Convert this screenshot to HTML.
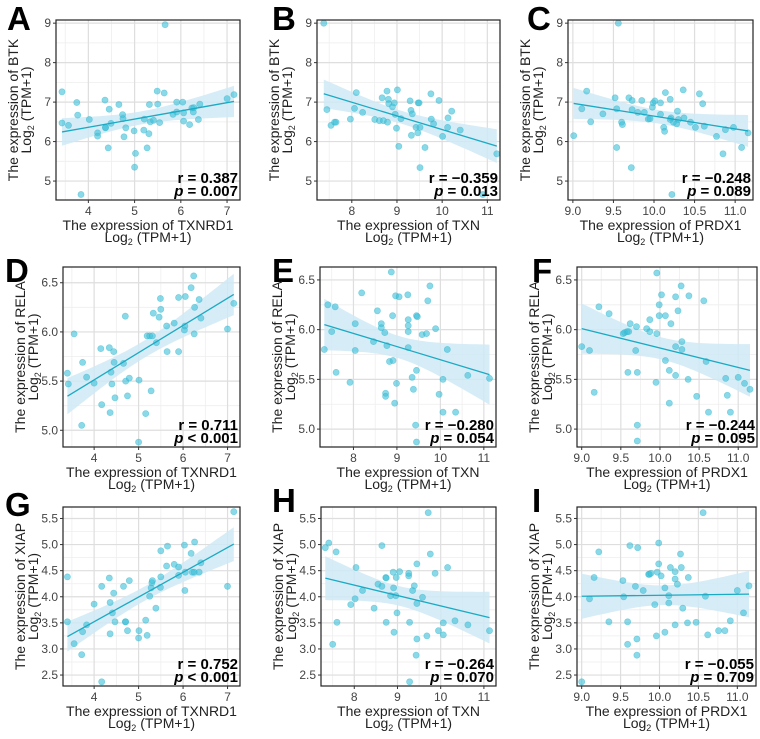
<!DOCTYPE html>
<html><head><meta charset="utf-8"><style>
html,body{margin:0;padding:0;background:#fff;}
svg{display:block;font-family:"Liberation Sans",Arial,sans-serif;}
</style></head><body>
<svg id="fig" width="760" height="739" viewBox="0 0 760 739"></svg>
<script>
// ---- data (log2 TPM+1) ----
const aX=[3.43,3.43,3.57,3.75,3.77,4.02,4.2,4.2,4.36,4.37,4.37,4.43,4.45,4.49,4.66,4.74,4.75,4.77,4.81,5.02,5.0,4.99,5.2,5.21,5.31,5.27,5.32,5.34,5.41,5.49,5.5,5.54,5.64,5.66,3.84,5.83,5.91,5.91,6.04,6.06,6.06,6.19,6.24,6.27,6.28,6.38,6.41,7.0,7.15];
const aY=[7.26,6.47,6.41,6.99,6.67,6.56,6.22,6.14,7.05,6.36,6.35,5.84,6.82,6.46,6.94,6.68,6.58,6.12,6.35,5.7,5.35,6.27,6.29,6.57,6.2,5.84,6.94,6.5,6.54,7.28,6.95,6.48,7.23,8.96,4.66,6.69,7.0,6.75,7.0,6.73,6.52,6.43,6.85,6.75,6.86,6.56,6.95,7.09,7.19];
const bX=[7.38,7.45,7.54,7.62,7.65,7.97,8.06,8.1,8.24,8.51,8.61,8.67,8.7,8.78,8.79,8.81,8.82,8.9,8.94,8.96,8.99,9.01,9.04,9.09,9.29,9.31,9.32,9.34,9.42,9.46,9.47,9.49,9.51,9.51,9.62,9.75,9.76,9.81,9.93,10.01,10.12,10.13,10.21,10.4,10.9,11.21];
const bY=[9.0,6.81,6.41,6.49,6.49,6.57,6.84,7.24,6.74,6.56,6.53,7.11,6.53,7.28,6.49,7.07,6.96,6.88,6.98,6.69,6.34,7.31,5.88,6.58,7.03,6.79,6.16,6.7,6.36,6.22,6.98,6.98,6.36,5.34,5.85,7.21,6.57,6.45,7.04,6.13,6.36,6.6,6.77,6.29,4.66,5.69];
const cX=[9.01,9.11,9.17,9.22,9.37,9.54,9.54,9.6,9.61,9.69,9.72,9.73,9.8,9.85,9.88,9.93,9.95,9.98,9.99,10.01,10.08,10.08,10.12,10.13,10.14,10.2,10.21,10.22,10.24,10.28,10.29,10.3,10.36,10.37,10.45,10.51,10.56,10.6,10.62,10.77,10.85,10.88,10.98,11.08,11.16,9.56,9.52,9.73,10.2];
const cY=[6.15,6.83,7.28,6.5,6.7,6.83,5.85,6.49,6.43,7.11,5.34,7.04,6.74,7.04,6.74,6.57,6.58,6.87,6.98,7.03,6.69,6.98,6.36,6.26,7.24,7.07,6.6,4.66,6.49,6.45,6.77,6.56,7.31,6.6,6.49,6.36,7.21,6.96,6.39,6.13,5.69,6.3,6.36,5.85,6.22,9.0,7.11,6.81,6.56];
const dX=[3.4,3.42,3.55,3.72,3.74,3.83,4.0,4.15,4.17,4.34,4.36,4.44,4.45,4.38,4.4,4.47,4.66,4.7,4.71,4.75,4.79,5.01,5.0,5.16,5.19,5.25,5.28,5.31,5.33,5.4,5.46,5.49,5.5,5.63,5.64,5.8,5.9,5.9,6.03,6.05,6.04,6.18,6.24,6.25,6.26,6.36,6.4,7.0,7.14];
const dY=[5.58,5.47,5.98,5.05,5.69,5.54,5.48,5.83,5.26,5.84,5.18,5.8,5.69,5.59,5.47,5.33,5.68,6.16,5.5,5.35,5.53,5.51,4.88,5.17,5.96,5.96,5.4,5.96,6.19,5.89,6.15,6.34,6.23,6.06,5.8,6.09,5.8,6.35,6.02,6.36,6.06,6.45,6.57,5.98,6.25,6.33,6.14,6.03,6.29];
const eX=[7.33,7.41,7.5,7.58,7.6,7.92,8.04,8.04,8.19,8.46,8.55,8.64,8.64,8.72,8.74,8.74,8.77,8.83,8.91,8.9,8.95,8.87,8.97,8.99,9.05,9.25,9.26,9.26,9.26,9.26,9.45,9.35,9.38,9.43,9.45,9.45,9.58,9.68,9.71,9.76,9.89,9.97,10.06,10.06,10.16,10.35,10.63,11.13,9.47];
const eY=[5.8,6.25,5.98,6.23,5.57,5.47,6.06,5.79,6.37,5.88,6.19,6.06,6.02,5.97,5.36,5.33,5.84,5.68,5.69,6.14,5.26,6.58,6.34,5.46,6.33,6.35,6.1,6.04,5.82,5.98,6.14,5.52,5.4,5.04,4.87,5.59,5.95,5.96,6.29,6.44,6.01,5.35,5.5,5.17,5.8,5.17,5.54,5.51,6.13];
const fX=[9.0,9.1,9.16,9.22,9.35,9.53,9.55,9.58,9.6,9.62,9.69,9.7,9.71,9.83,9.87,9.87,9.95,9.96,9.96,9.99,9.99,10.02,10.07,10.07,10.12,10.12,10.14,10.2,10.2,10.2,10.23,10.27,10.28,10.28,10.36,10.37,10.47,10.56,10.59,10.62,10.86,10.9,10.84,11.0,11.08,11.15,9.71,9.71,9.59];
const fY=[5.83,5.79,5.37,6.23,6.16,5.96,5.97,5.98,5.98,6.06,5.79,6.03,5.57,6.01,6.1,5.98,5.47,5.96,6.57,6.25,6.14,6.35,6.14,5.69,5.59,5.26,6.06,5.54,5.83,6.33,6.19,6.44,5.88,5.8,5.5,6.34,5.33,6.29,5.68,5.17,5.34,5.17,5.51,5.52,5.46,5.4,5.04,4.88,5.57];
const gX=[3.4,3.4,3.55,3.72,3.74,3.83,4.0,4.17,4.34,4.36,4.36,4.44,4.41,4.47,4.66,4.7,4.71,4.75,4.79,5.0,5.01,5.16,5.19,5.25,5.28,5.3,5.31,5.39,5.49,5.5,5.5,5.63,5.65,5.8,5.9,5.9,6.03,6.05,6.04,6.18,6.21,6.25,6.26,6.36,6.4,7.0,7.14,4.17];
const gY=[4.38,3.52,3.1,2.89,3.33,3.46,3.86,4.2,4.36,3.89,3.29,4.07,3.69,3.52,4.2,3.52,3.52,3.35,4.31,3.21,3.35,3.55,3.26,4.01,4.17,4.27,4.31,3.78,4.18,4.38,4.88,4.59,4.97,4.62,4.41,4.57,4.99,4.47,4.12,4.83,4.47,4.47,5.05,4.47,4.65,4.2,5.63,2.37];
const hX=[7.33,7.41,7.5,7.58,7.6,7.92,8.02,8.04,8.19,8.46,8.55,8.64,8.73,8.74,8.74,8.84,8.9,8.91,8.92,8.96,8.97,8.99,9.05,9.26,9.26,9.28,9.28,9.35,9.39,9.43,9.45,9.45,9.45,9.58,9.68,9.76,9.87,9.95,10.06,10.06,10.16,10.33,10.63,11.13,9.71,8.64];
const hY=[4.94,5.03,3.09,4.86,3.51,3.85,3.96,4.56,4.12,3.78,4.24,4.2,4.37,3.51,4.36,4.02,4.47,4.17,3.32,4.02,4.37,3.69,4.48,4.4,4.45,3.51,2.37,4.12,4.21,2.88,3.19,3.87,4.63,3.99,3.25,4.82,4.45,3.35,3.5,3.27,4.56,3.54,3.46,3.35,5.61,4.98];
const iX=[9.0,9.1,9.16,9.22,9.35,9.53,9.54,9.59,9.59,9.62,9.69,9.71,9.71,9.72,9.79,9.86,9.87,9.89,9.94,9.96,9.97,9.99,9.99,10.02,10.07,10.07,10.12,10.12,10.14,10.2,10.2,10.2,10.23,10.27,10.28,10.3,10.36,10.37,10.47,10.56,10.59,10.62,10.76,10.84,10.91,11.0,11.08,11.15];
const iY=[2.37,3.96,4.37,4.86,3.52,4.31,4.0,3.52,3.09,4.98,4.2,3.19,2.88,4.94,4.12,4.43,4.43,4.45,3.85,3.25,4.47,5.03,4.63,4.4,3.32,4.17,3.88,4.02,4.56,3.46,4.34,4.48,4.24,4.82,4.56,3.78,3.5,4.37,3.51,5.61,4.01,3.27,3.35,3.35,3.54,4.12,3.69,4.21];
// tick labels
const ticksTXNRD1=[4,5,6,7];
const ticksTXN=[8,9,10,11];
const ticksPRDX1=[9.0,9.5,10.0,10.5,11.0];
const ticksBTK=[5,6,7,8,9];
const ticksRELA=[5.0,5.5,6.0,6.5];
const ticksXIAP=[2.5,3.0,3.5,4.0,4.5,5.0,5.5];
const statsR=['0.387','\u22120.359','\u22120.248','0.711','\u22120.280','\u22120.244','0.752','\u22120.264','\u22120.055'];
const statsP=['= 0.007','= 0.013','= 0.089','< 0.001','= 0.054','= 0.095','< 0.001','= 0.070','= 0.709'];

const panels=[
 {id:'A',x:aX,y:aY,rect:[56,240,20,200],xd:[3.3,7.28],yd:[4.52,9.08],xt:ticksTXNRD1,yt:ticksBTK,xdec:0,ydec:0,gene:'BTK',xg:'TXNRD1',base:30,lx:7},
 {id:'B',x:bX,y:bY,rect:[317,500,20,200],xd:[7.23,11.28],yd:[4.52,9.08],xt:ticksTXN,yt:ticksBTK,xdec:0,ydec:0,gene:'BTK',xg:'TXN',base:30,lx:272},
 {id:'C',x:cX,y:cY,rect:[568,753,20,200],xd:[8.94,11.22],yd:[4.52,9.08],xt:ticksPRDX1,yt:ticksBTK,xdec:1,ydec:0,gene:'BTK',xg:'PRDX1',base:30,lx:527},
 {id:'D',x:dX,y:dY,rect:[63,240,267,447],xd:[3.3,7.28],yd:[4.83,6.66],xt:ticksTXNRD1,yt:ticksRELA,xdec:0,ydec:1,gene:'RELA',xg:'TXNRD1',base:282,lx:5},
 {id:'E',x:eX,y:eY,rect:[320,496,267,447],xd:[7.23,11.28],yd:[4.82,6.63],xt:ticksTXN,yt:ticksRELA,xdec:0,ydec:1,gene:'RELA',xg:'TXN',base:282,lx:272},
 {id:'F',x:fX,y:fY,rect:[577,757,267,447],xd:[8.94,11.24],yd:[4.82,6.63],xt:ticksPRDX1,yt:ticksRELA,xdec:1,ydec:1,gene:'RELA',xg:'PRDX1',base:282,lx:532},
 {id:'G',x:gX,y:gY,rect:[63,240,507,686],xd:[3.3,7.28],yd:[2.29,5.72],xt:ticksTXNRD1,yt:ticksXIAP,xdec:0,ydec:1,gene:'XIAP',xg:'TXNRD1',base:516,lx:5},
 {id:'H',x:hX,y:hY,rect:[321,496,507,686],xd:[7.23,11.28],yd:[2.29,5.72],xt:ticksTXN,yt:ticksXIAP,xdec:0,ydec:1,gene:'XIAP',xg:'TXN',base:512,lx:272},
 {id:'I',x:iX,y:iY,rect:[577,756,507,686],xd:[8.94,11.24],yd:[2.29,5.72],xt:ticksPRDX1,yt:ticksXIAP,xdec:1,ydec:1,gene:'XIAP',xg:'PRDX1',base:512,lx:532}
];

const NS='http://www.w3.org/2000/svg';
const svg=document.getElementById('fig');
function mk(tag,attrs,parent){const e=document.createElementNS(NS,tag);for(const k in attrs)e.setAttribute(k,attrs[k]);(parent||svg).appendChild(e);return e;}

panels.forEach((P,pi)=>{
  const [x0,x1,y0,y1]=P.rect;
  const sx=v=>x0+(v-P.xd[0])/(P.xd[1]-P.xd[0])*(x1-x0);
  const sy=v=>y1-(v-P.yd[0])/(P.yd[1]-P.yd[0])*(y1-y0);
  const g=mk('g',{});
  
  
  const L=mk('text',{x:P.lx,y:P.base,'font-size':33,'font-weight':'bold',fill:'#000'},g);
  L.textContent=P.id;
  
  
  mk('rect',{x:x0,y:y0,width:x1-x0,height:y1-y0,fill:'#fff'},g);
  const grid=mk('g',{},g);
  
  
  const xs=P.xt, ys=P.yt;
  const xstep=xs[1]-xs[0], ystep=ys[1]-ys[0];
  for(let v=xs[0]-xstep*1.5; v<=xs[xs.length-1]+xstep*1.5; v+=xstep){
    if(v>P.xd[0]&&v<P.xd[1]){const X=sx(v);mk('line',{x1:X,x2:X,y1:y0,y2:y1,stroke:'#eeeeee','stroke-width':0.8},grid);}
  }
  for(let v=ys[0]-ystep*1.5; v<=ys[ys.length-1]+ystep*1.5; v+=ystep){
    if(v>P.yd[0]&&v<P.yd[1]){const Y=sy(v);mk('line',{x1:x0,x2:x1,y1:Y,y2:Y,stroke:'#eeeeee','stroke-width':0.8},grid);}
  }
  xs.forEach(v=>{const X=sx(v);mk('line',{x1:X,x2:X,y1:y0,y2:y1,stroke:'#dedede','stroke-width':1.2},grid);});
  ys.forEach(v=>{const Y=sy(v);mk('line',{x1:x0,x2:x1,y1:Y,y2:Y,stroke:'#dedede','stroke-width':1.2},grid);});
  const n=P.x.length;
  let mx=0,my=0;for(let i=0;i<n;i++){mx+=P.x[i];my+=P.y[i];}mx/=n;my/=n;
  let sxx=0,sxy=0;for(let i=0;i<n;i++){sxx+=(P.x[i]-mx)**2;sxy+=(P.x[i]-mx)*(P.y[i]-my);}
  const b=sxy/sxx,a=my-b*mx;
  let sse=0;for(let i=0;i<n;i++){sse+=(P.y[i]-a-b*P.x[i])**2;}
  const s=Math.sqrt(sse/(n-2)),t=2.01;
  const xmin=Math.min(...P.x),xmax=Math.max(...P.x);
  const up=[],lo=[];
  for(let k=0;k<=40;k++){const xv=xmin+(xmax-xmin)*k/40;const yh=a+b*xv;const h=t*s*Math.sqrt(1/n+(xv-mx)**2/sxx);up.push(sx(xv).toFixed(1)+','+sy(yh+h).toFixed(1));lo.unshift(sx(xv).toFixed(1)+','+sy(yh-h).toFixed(1));}
  const band=mk('polygon',{points:up.concat(lo).join(' '),fill:'#cfe9f5','fill-opacity':0.85},g);
  
  
  const pts=mk('g',{},g);
  
  
  for(let i=0;i<n;i++){
    const c=mk('circle',{cx:sx(P.x[i]).toFixed(1),cy:sy(P.y[i]).toFixed(1),r:3.1,fill:'#3cc0d8','fill-opacity':0.6,stroke:'#2bb3cc','stroke-opacity':0.5,'stroke-width':0.6},pts);
    
    
  }
  const ln=mk('line',{x1:sx(xmin),y1:sy(a+b*xmin),x2:sx(xmax),y2:sy(a+b*xmax),stroke:'#1aaac4','stroke-width':1.3},g);
  
  
  mk('rect',{x:x0,y:y0,width:x1-x0,height:y1-y0,fill:'none',stroke:'#222','stroke-width':1.2},g);
  xs.forEach(v=>{const X=sx(v);mk('line',{x1:X,x2:X,y1:y1,y2:y1+3,stroke:'#333','stroke-width':1},g);
    const tx=mk('text',{x:X,y:y1+15,'font-size':12,'text-anchor':'middle',fill:'#444'},g);tx.textContent=v.toFixed(P.xdec);
    
    });
  ys.forEach(v=>{const Y=sy(v);mk('line',{x1:x0-3,x2:x0,y1:Y,y2:Y,stroke:'#333','stroke-width':1},g);
    const ty=mk('text',{x:x0-5,y:Y+4,'font-size':12,'text-anchor':'end',fill:'#444'},g);ty.textContent=v.toFixed(P.ydec);
    
    });
  const cx=(x0+x1)/2;
  const xt1=mk('text',{x:cx,y:y1+30,'font-size':14,'text-anchor':'middle',fill:'#222'},g);
  xt1.textContent='The expression of '+P.xg;
  
  
  const xt2=mk('text',{x:cx,y:y1+42,'font-size':14,'text-anchor':'middle',fill:'#222'},g);
  xt2.innerHTML='Log<tspan font-size="9" dy="3">2</tspan><tspan dy="-3"> (TPM+1)</tspan>';
  
  
  const cy=(y0+y1)/2;
  const yt1=mk('text',{x:0,y:0,'font-size':14,'text-anchor':'middle',fill:'#222',transform:`translate(${x0-38},${cy}) rotate(-90)`},g);
  yt1.textContent='The expression of '+P.gene;
  
  
  const yt2=mk('text',{x:0,y:0,'font-size':14,'text-anchor':'middle',fill:'#222',transform:`translate(${x0-25},${cy}) rotate(-90)`},g);
  yt2.innerHTML='Log<tspan font-size="9" dy="3">2</tspan><tspan dy="-3"> (TPM+1)</tspan>';
  
  
  const rt=mk('text',{x:x1-2,y:y1-17,'font-size':15,'font-weight':'bold','text-anchor':'end',fill:'#000'},g);
  rt.textContent='r = '+statsR[pi];
  
  
  const pt=mk('text',{x:x1-2,y:y1-4,'font-size':15,'font-weight':'bold','text-anchor':'end',fill:'#000'},g);
  pt.innerHTML='<tspan font-style="italic">p</tspan> '+statsP[pi].replace('<','&lt;');
  
  
});
</script>
</body></html>
